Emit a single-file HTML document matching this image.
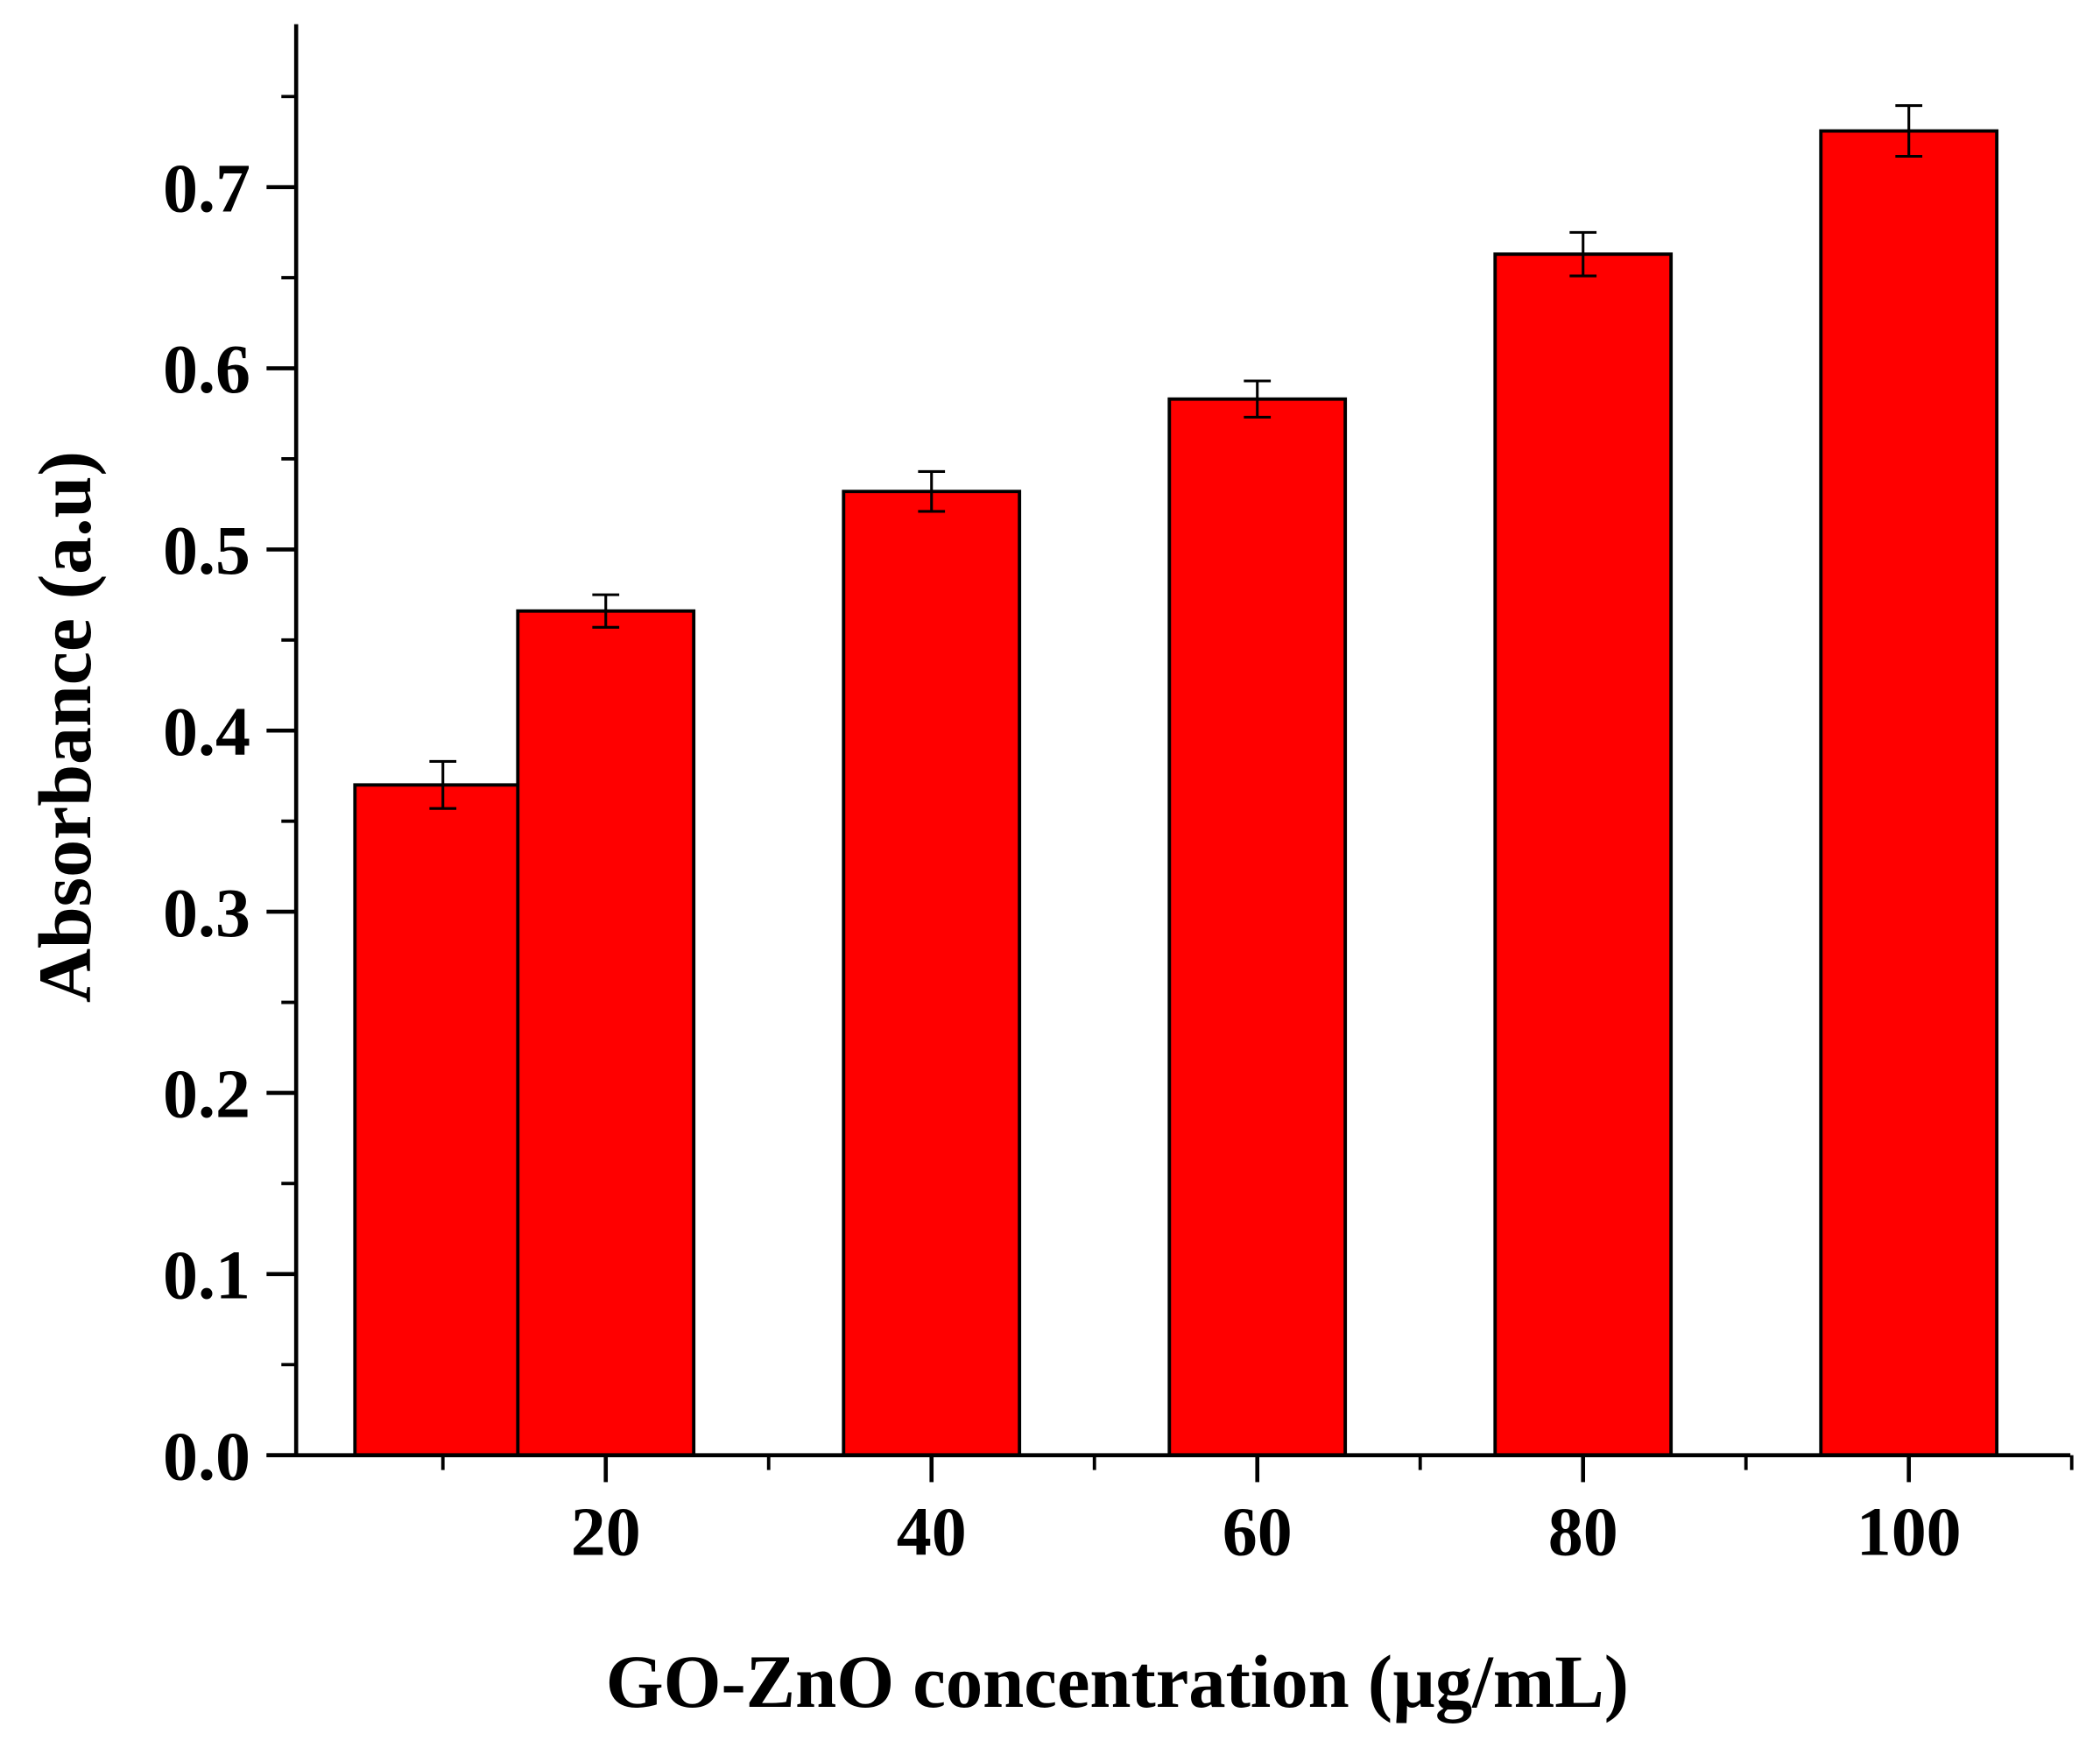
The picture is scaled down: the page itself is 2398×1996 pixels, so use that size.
<!DOCTYPE html>
<html><head><meta charset="utf-8"><style>
html,body{margin:0;padding:0;background:#fff;}
svg{display:block;}
text{font-family:"Liberation Serif",serif;font-weight:bold;fill:#000;}
</style></head><body>
<svg id="chart" width="2398" height="1996" viewBox="0 0 1560 1298.5" xmlns="http://www.w3.org/2000/svg">
<g id="bars"></g>
<g id="axes"></g>
<text x="830" y="1268" text-anchor="middle" font-size="56" textLength="760" lengthAdjust="spacingAndGlyphs">GO-ZnO concentration (µg/mL)</text>
<text transform="translate(67,540) rotate(-90)" text-anchor="middle" font-size="56" textLength="410" lengthAdjust="spacingAndGlyphs">Absorbance (a.u)</text>
</svg>
<script>
const categories = [10, 20, 40, 60, 80, 100];
const values = [0.370, 0.466, 0.532, 0.583, 0.663, 0.731];
const errors = [0.013, 0.009, 0.011, 0.010, 0.012, 0.014];
const yTicks = [0.0, 0.1, 0.2, 0.3, 0.4, 0.5, 0.6, 0.7];
const yTickLabels = ["0.0", "0.1", "0.2", "0.3", "0.4", "0.5", "0.6", "0.7"];
const xTicks = [20, 40, 60, 80, 100];
const xTickLabels = ["20", "40", "60", "80", "100"];

const NS = "http://www.w3.org/2000/svg";
const X0 = 208, XS = 12.1;
const Y0 = 1081, YS = 1345.7;
const xs = v => X0 + v * XS;
const ys = v => Y0 - v * YS;
const barW = 10.8 * XS;

function mk(tag, attrs, parent) {
  const e = document.createElementNS(NS, tag);
  for (const k in attrs) e.setAttribute(k, attrs[k]);
  parent.appendChild(e);
  return e;
}
const bars = document.getElementById('bars');
const axes = document.getElementById('axes');

categories.forEach((c, i) => {
  const cx = xs(c), top = ys(values[i]);
  const r = mk('rect', {x: cx - barW/2, y: top, width: barW, height: Y0 - top, fill: '#ff0000', stroke: '#000', 'stroke-width': 2.5}, bars);
  
  
  const g = mk('g', {stroke: '#000', 'stroke-width': 2}, bars);
  
  
  const hi = ys(values[i] + errors[i]), lo = ys(values[i] - errors[i]);
  mk('line', {x1: cx, y1: hi, x2: cx, y2: lo}, g);
  mk('line', {x1: cx - 10, y1: hi, x2: cx + 10, y2: hi}, g);
  mk('line', {x1: cx - 10, y1: lo, x2: cx + 10, y2: lo}, g);
});

const ya = mk('line', {x1: 220, y1: 18, x2: 220, y2: Y0 + 1.5, stroke: '#000', 'stroke-width': 3}, axes);


const xa = mk('line', {x1: 198, y1: Y0, x2: 1538, y2: Y0, stroke: '#000', 'stroke-width': 3}, axes);



for (let v = 0.05; v < 0.79; v += 0.1) {
  const t = mk('line', {x1: 209, y1: ys(v), x2: 220, y2: ys(v), stroke: '#000', 'stroke-width': 2.5}, axes);
  
  
}
yTicks.forEach((v, i) => {
  const t = mk('line', {x1: 198, y1: ys(v), x2: 220, y2: ys(v), stroke: '#000', 'stroke-width': 3}, axes);
  
  
  const l = mk('text', {x: 186, y: ys(v) + 18, 'text-anchor': 'end', 'font-size': 52}, axes);
  l.textContent = yTickLabels[i];
  
  
});
for (let v = 10; v <= 110; v += 20) {
  const t = mk('line', {x1: xs(v), y1: Y0, x2: xs(v), y2: Y0 + 11, stroke: '#000', 'stroke-width': 2.5}, axes);
  
  
}
xTicks.forEach((v, i) => {
  const t = mk('line', {x1: xs(v), y1: Y0, x2: xs(v), y2: Y0 + 20, stroke: '#000', 'stroke-width': 3}, axes);
  
  
  const l = mk('text', {x: xs(v), y: 1155, 'text-anchor': 'middle', 'font-size': 52}, axes);
  l.textContent = xTickLabels[i];
  
  
});
</script>
</body></html>
